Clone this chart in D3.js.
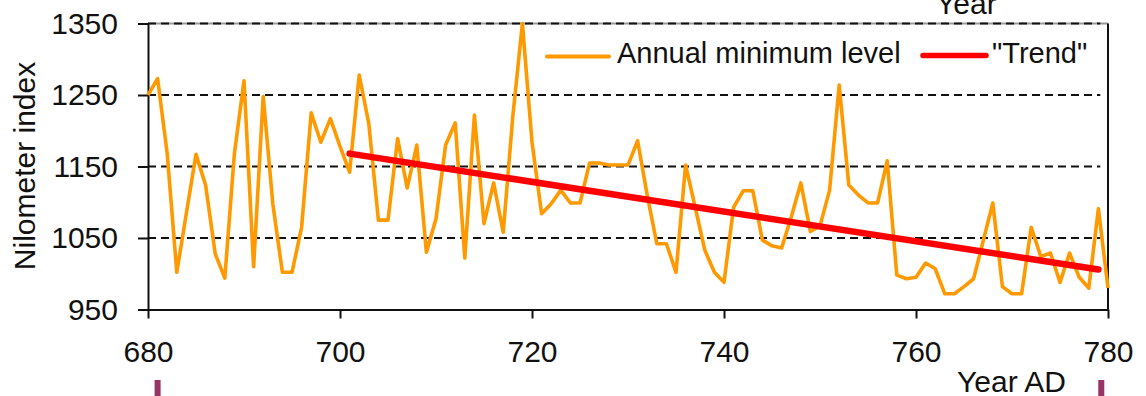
<!DOCTYPE html>
<html>
<head>
<meta charset="utf-8">
<script src="https://cdn.jsdelivr.net/npm/d3@7"></script>
<style>
  body { margin: 0; background: #fff; }
  svg { display: block; font-family: "Liberation Sans", Arial, sans-serif; }
  .axis text { font-size: 30px; fill: #111; }
  .axis path, .axis line { stroke: #111; stroke-width: 2px; }
</style>
</head>
<body>
<div id="chart"></div>
<script>
// Nilometer annual minimum levels, 680-780 AD
const years = d3.range(680, 781);
const levels = [
    1250, 1273, 1168, 1002, 1085, 1167, 1124, 1028, 994, 1168,
    1270, 1010, 1248, 1098, 1002, 1002, 1065, 1225, 1184, 1217,
    1178, 1142, 1278, 1210, 1075, 1075, 1189, 1120, 1180, 1030,
    1077, 1180, 1211, 1022, 1222, 1070, 1127, 1058, 1220, 1350,
    1184, 1084, 1098, 1117, 1099, 1099, 1155, 1155, 1152, 1152,
    1152, 1186, 1110, 1042, 1042, 1002, 1152, 1093, 1033, 1002,
    988, 1093, 1116, 1116, 1047, 1039, 1036, 1079, 1127, 1059,
    1067, 1117, 1264, 1124, 1110, 1099, 1099, 1158, 998, 993,
    995, 1015, 1007, 972, 972, 982, 993, 1046, 1099, 982,
    972, 972, 1065, 1024, 1029, 988, 1029, 995, 980, 1091,
    980
];
const trendYears = [701, 779];
const trendValues = [1168, 1006];
const yTicks = [950, 1050, 1150, 1250, 1350];
const xTicks = [680, 700, 720, 740, 760, 780];
const gridValues = [1050, 1150, 1250, 1350];

const width = 1146, height = 396;

const svg = d3.select('#chart')
    .append('svg')
    .attr('width', width)
    .attr('height', height);

const x = d3.scaleLinear().domain([680, 780]).range([148, 1108]);
const y = d3.scaleLinear().domain([950, 1350]).range([309.5, 23.5]);

// top frame line (grey) and right border
svg.append('line')
    .attr('x1', x(680)).attr('x2', x(780))
    .attr('y1', y(1350)).attr('y2', y(1350))
    .attr('stroke', '#999').attr('stroke-width', 2);
svg.append('line')
    .attr('x1', x(780)).attr('x2', x(780))
    .attr('y1', y(1350)).attr('y2', y(950))
    .attr('stroke', '#111').attr('stroke-width', 2);

// dashed gridlines
svg.append('g')
    .selectAll('line')
    .data(gridValues)
    .enter().append('line')
    .attr('x1', x(680)).attr('x2', x(779.2))
    .attr('y1', d => y(d)).attr('y2', d => y(d))
    .attr('stroke', '#111')
    .attr('stroke-width', 2)
    .attr('stroke-dasharray', '8,5');

// axes
svg.append('g')
    .attr('class', 'axis')
    .attr('transform', `translate(${x(680)},0)`)
    .call(d3.axisLeft(y).tickValues(yTicks).tickSize(10).tickSizeOuter(0).tickPadding(20).tickFormat(d3.format('d')));

svg.append('g')
    .attr('class', 'axis')
    .attr('transform', `translate(0,${y(950)})`)
    .call(d3.axisBottom(x).tickValues(xTicks).tickSize(9).tickSizeOuter(0).tickPadding(22).tickFormat(d3.format('d')));

// series
const line = d3.line()
    .x((d, i) => x(years[i]))
    .y(d => y(d));

svg.append('path')
    .datum(levels)
    .attr('fill', 'none')
    .attr('stroke', '#FF9900')
    .attr('stroke-width', 3.6)
    .attr('stroke-linejoin', 'round')
    .attr('d', line);

const trendLine = d3.line()
    .x((d, i) => x(trendYears[i]))
    .y(d => y(d));

svg.append('path')
    .datum(trendValues)
    .attr('fill', 'none')
    .attr('stroke', '#FF0000')
    .attr('stroke-width', 6.5)
    .attr('stroke-linecap', 'round')
    .attr('d', trendLine);

// legend
const legend = svg.append('g').attr('font-size', 29).attr('fill', '#111');
legend.append('line')
    .attr('x1', 547).attr('x2', 609).attr('y1', 56.5).attr('y2', 56.5)
    .attr('stroke', '#FF9900').attr('stroke-width', 4).attr('stroke-linecap', 'round');
legend.append('text').attr('x', 617).attr('y', 63).text('Annual minimum level');
legend.append('line')
    .attr('x1', 923).attr('x2', 986).attr('y1', 55.5).attr('y2', 55.5)
    .attr('stroke', '#FF0000').attr('stroke-width', 5.5).attr('stroke-linecap', 'round');
legend.append('text').attr('x', 992).attr('y', 63).text('"Trend"');

// axis titles
svg.append('text')
    .attr('transform', 'translate(35,166) rotate(-90)')
    .attr('text-anchor', 'middle')
    .attr('font-size', 30)
    .attr('fill', '#111')
    .text('Nilometer index');

svg.append('text')
    .attr('x', 957).attr('y', 392)
    .attr('font-size', 30)
    .attr('fill', '#111')
    .text('Year AD');

// clipped title remnant at top
svg.append('text')
    .attr('x', 936).attr('y', 14)
    .attr('font-size', 30)
    .attr('fill', '#111')
    .text('Year');

// small marker bars under the axis
svg.append('g')
    .selectAll('rect')
    .data([681, 779.3])
    .enter().append('rect')
    .attr('x', d => x(d) - 3)
    .attr('y', 380)
    .attr('width', 6)
    .attr('height', 16)
    .attr('fill', '#993366');
</script>
</body>
</html>
